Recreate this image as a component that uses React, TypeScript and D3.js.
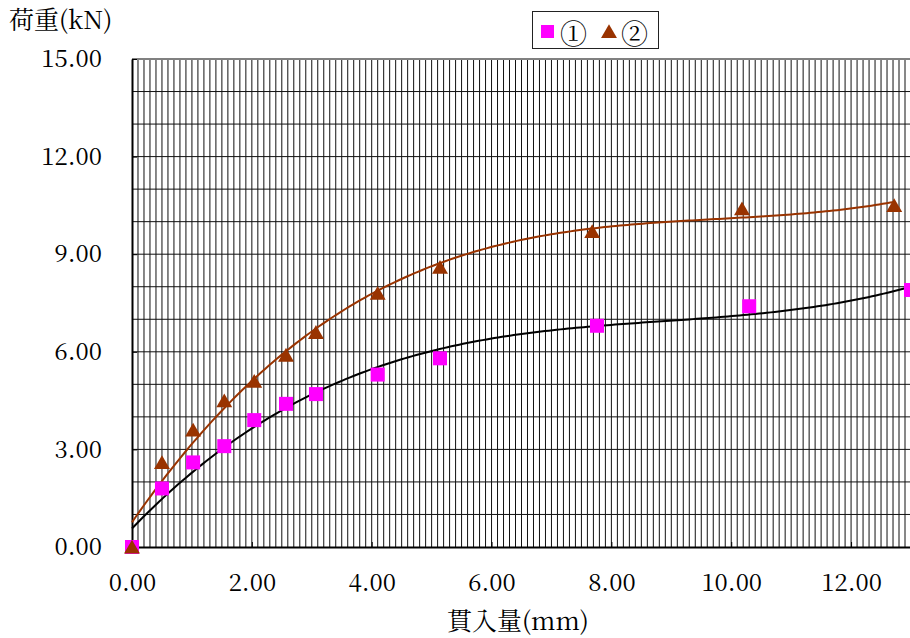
import React, { useEffect, useRef } from 'react';
import * as d3 from 'd3';

// 貫入量(mm) / 荷重(kN)
const penetration1 = [0, 0.5, 1.02, 1.54, 2.04, 2.57, 3.07, 4.1, 5.14, 7.76, 10.3, 13.0];
const load1 = [0, 1.8, 2.6, 3.1, 3.9, 4.4, 4.7, 5.3, 5.8, 6.8, 7.4, 7.9];
const penetration2 = [0, 0.5, 1.02, 1.54, 2.04, 2.57, 3.07, 4.1, 5.14, 7.68, 10.18, 12.72];
const load2 = [0, 2.6, 3.6, 4.5, 5.1, 5.9, 6.6, 7.8, 8.6, 9.7, 10.4, 10.5];
const seriesNames = ['①', '②'];
const xTicks = [0, 2, 4, 6, 8, 10, 12];
const yTicks = [0, 3, 6, 9, 12, 15];

const TREND_DEGREE = 3;
const FONT = '"Noto Serif CJK JP"';

// least squares polynomial fit (like an Excel polynomial trendline)
function polyFit(xs: number[], ys: number[], deg: number): number[] {
  const n = deg + 1;
  const A: number[][] = [];
  for (let r = 0; r < n; r++) {
    A.push(new Array(n + 1).fill(0));
    for (let c = 0; c < n; c++) {
      A[r][c] = d3.sum(xs, (x) => Math.pow(x, r + c));
    }
    A[r][n] = d3.sum(xs, (x, i) => ys[i] * Math.pow(x, r));
  }
  for (let i = 0; i < n; i++) {
    let p = i;
    for (let k = i + 1; k < n; k++) if (Math.abs(A[k][i]) > Math.abs(A[p][i])) p = k;
    [A[i], A[p]] = [A[p], A[i]];
    for (let k = i + 1; k < n; k++) {
      const f = A[k][i] / A[i][i];
      for (let j = i; j <= n; j++) A[k][j] -= f * A[i][j];
    }
  }
  const coef = new Array(n).fill(0);
  for (let i = n - 1; i >= 0; i--) {
    let s = A[i][n];
    for (let j = i + 1; j < n; j++) s -= A[i][j] * coef[j];
    coef[i] = s / A[i][i];
  }
  return coef;
}

function LoadChart() {
  const ref = useRef<SVGSVGElement>(null);

  useEffect(() => {
    const width = 910, height = 638;
    const marginLeft = 132, marginTop = 59;
    const plotW = 779, plotH = 488;

    const svg = d3.select(ref.current);
    svg.selectAll('*').remove();
    svg.attr('width', width).attr('height', height);

    const x = d3.scaleLinear().domain([0, 13]).range([0, plotW]);
    const y = d3.scaleLinear().domain([0, 15]).range([plotH, 0]);

    const g = svg.append('g').attr('transform', `translate(${marginLeft}, ${marginTop})`);

    // minor vertical grid every 0.1mm
    g.append('g')
      .selectAll('line')
      .data(d3.range(1, 130).map((i) => i / 10))
      .enter().append('line')
      .attr('x1', (d) => x(d)).attr('x2', (d) => x(d))
      .attr('y1', 0).attr('y2', plotH)
      .attr('stroke', '#111').attr('stroke-width', 1);

    // horizontal grid every 1kN
    g.append('g')
      .selectAll('line')
      .data(d3.range(1, 15))
      .enter().append('line')
      .attr('x1', 0).attr('x2', plotW)
      .attr('y1', (d) => y(d)).attr('y2', (d) => y(d))
      .attr('stroke', '#111').attr('stroke-width', 1);

    // plot frame top
    g.append('line')
      .attr('x1', 0).attr('x2', plotW).attr('y1', 0).attr('y2', 0)
      .attr('stroke', '#808080').attr('stroke-width', 2);

    // axes with inside ticks
    const xAxis = g.append('g')
      .attr('transform', `translate(0, ${plotH})`)
      .call(d3.axisBottom(x).tickValues(xTicks).tickSizeInner(-5).tickSizeOuter(0).tickPadding(27)
        .tickFormat((d) => d3.format('.2f')(d as number)));
    xAxis.attr('font-family', null).attr('font-size', null);
    xAxis.select('.domain').attr('stroke', '#000').attr('stroke-width', 2);
    xAxis.selectAll('.tick line').attr('stroke', '#000');
    xAxis.selectAll('text').style('font-family', FONT).style('font-size', '24px').attr('fill', '#000');

    const yAxis = g.append('g')
      .call(d3.axisLeft(y).tickValues(yTicks).tickSizeInner(-5).tickSizeOuter(0).tickPadding(30)
        .tickFormat((d) => d3.format('.2f')(d as number)));
    yAxis.attr('font-family', null).attr('font-size', null);
    yAxis.select('.domain').attr('stroke', '#000').attr('stroke-width', 2);
    yAxis.selectAll('.tick line').attr('stroke', '#000');
    yAxis.selectAll('text').style('font-family', FONT).style('font-size', '24px').attr('fill', '#000');

    // trendlines
    const line = d3.line<number>().x((d) => x(d[0])).y((d) => y(d[1]));
    const series = [
      { xs: penetration1, ys: load1, color: '#000000' },
      { xs: penetration2, ys: load2, color: '#993300' },
    ];
    series.forEach((s) => {
      const coef = polyFit(s.xs, s.ys, TREND_DEGREE);
      const [x0, x1] = d3.extent(s.xs) as [number, number];
      const pts = d3.range(0, 201).map((i) => {
        const xv = x0 + ((x1 - x0) * i) / 200;
        const yv = coef.reduce((acc, c, k) => acc + c * Math.pow(xv, k), 0);
        return [xv, yv];
      });
      g.append('path')
        .datum(pts as any)
        .attr('d', line as any)
        .attr('fill', 'none')
        .attr('stroke', s.color)
        .attr('stroke-width', 2);
    });

    // markers
    g.append('g')
      .selectAll('rect')
      .data(penetration1.map((d, i) => [d, load1[i]]))
      .enter().append('rect')
      .attr('x', (d) => x(d[0]) - 7)
      .attr('y', (d) => y(d[1]) - 7)
      .attr('width', 14).attr('height', 14)
      .attr('fill', '#ff00ff');

    const tri = d3.symbol().type(d3.symbolTriangle).size(110);
    g.append('g')
      .selectAll('path')
      .data(penetration2.map((d, i) => [d, load2[i]]))
      .enter().append('path')
      .attr('d', tri as any)
      .attr('transform', (d) => `translate(${x(d[0])}, ${y(d[1]) + 2})`)
      .attr('fill', '#993300');

    // axis titles
    svg.append('text')
      .attr('x', 9).attr('y', 29)
      .style('font-family', FONT).style('font-size', '25px')
      .text('荷重(kN)');
    svg.append('text')
      .attr('x', 447).attr('y', 630)
      .style('font-family', FONT).style('font-size', '25px')
      .text('貫入量(mm)');

    // legend
    const legend = svg.append('g').attr('transform', 'translate(532, 11)');
    legend.append('rect')
      .attr('x', 0.5).attr('y', 0.5).attr('width', 126).attr('height', 37)
      .attr('fill', '#fff').attr('stroke', '#222').attr('stroke-width', 1);
    legend.append('rect')
      .attr('x', 9).attr('y', 14).attr('width', 13).attr('height', 13)
      .attr('fill', '#ff00ff');
    legend.append('text')
      .attr('x', 28).attr('y', 21).attr('dominant-baseline', 'central')
      .style('font-family', FONT).style('font-size', '27px')
      .text(seriesNames[0]);
    legend.append('path')
      .attr('d', tri as any)
      .attr('transform', 'translate(77, 22.5)')
      .attr('fill', '#993300');
    legend.append('text')
      .attr('x', 89).attr('y', 21).attr('dominant-baseline', 'central')
      .style('font-family', FONT).style('font-size', '27px')
      .text(seriesNames[1]);
  }, []);

  return <svg ref={ref} style={{ position: 'absolute', left: 0, top: 0, display: 'block' }} />;
}

export default function App() {
  return <LoadChart />;
}
